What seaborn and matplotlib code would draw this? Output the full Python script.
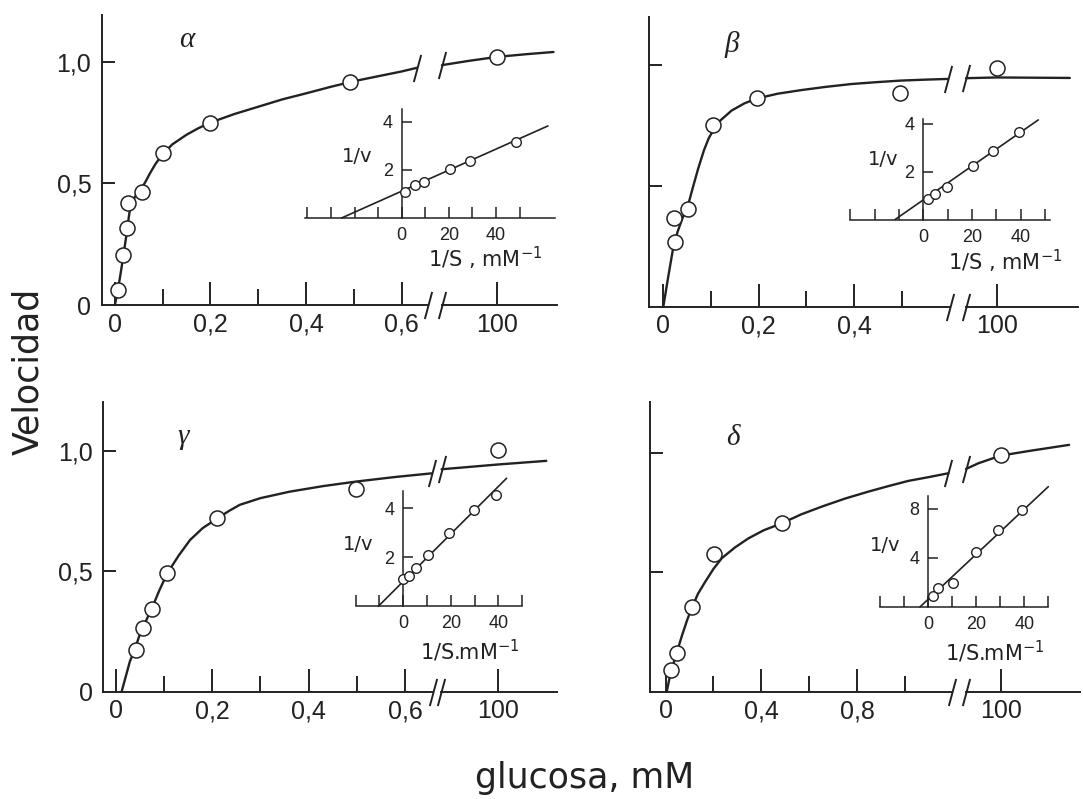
import matplotlib
matplotlib.use("Agg")
import matplotlib.pyplot as plt
from matplotlib.path import Path
import seaborn as sns

# ---------------- data ----------------
# panel alpha
alpha_S = [0.007, 0.018, 0.026, 0.028, 0.056, 0.10, 0.20, 0.492]
alpha_v = [0.062, 0.205, 0.315, 0.418, 0.466, 0.623, 0.747, 0.918]
alpha_S_hi = [100]
alpha_v_hi = [1.02]
alpha_fit_S = [0.0, 0.007, 0.012, 0.018, 0.022, 0.026, 0.029, 0.032, 0.037, 0.042, 0.05, 0.056,
               0.065, 0.073, 0.085, 0.10, 0.12, 0.15, 0.175, 0.20, 0.25, 0.30, 0.35, 0.40,
               0.45, 0.50, 0.55, 0.60, 0.632]
alpha_fit_v = [0.0, 0.07, 0.13, 0.205, 0.26, 0.31, 0.36, 0.40, 0.425, 0.445, 0.465, 0.48,
               0.51, 0.54, 0.58, 0.62, 0.66, 0.70, 0.727, 0.75, 0.785, 0.815, 0.845, 0.87,
               0.896, 0.92, 0.94, 0.96, 0.975]
alpha_fit_S_hi = [90.55, 95, 100, 105, 109.6]
alpha_fit_v_hi = [0.986, 1.003, 1.02, 1.031, 1.04]
alpha_invS = [1.4, 5.6, 9.6, 20.5, 28.9, 48.6]
alpha_invv = [1.09, 1.37, 1.51, 2.03, 2.38, 3.17]
alpha_lw_x = [-25.5, 62]
alpha_lw_y = [0.0, 3.82]

# panel beta
beta_S = [0.0245, 0.023, 0.052, 0.105, 0.196, 0.496]
beta_v = [0.269, 0.365, 0.402, 0.751, 0.861, 0.882]
beta_S_hi = [100]
beta_v_hi = [0.988]
beta_fit_S = [0.0, 0.01, 0.02, 0.03, 0.04, 0.052, 0.063, 0.073, 0.085, 0.095, 0.105, 0.12,
              0.143, 0.17, 0.196, 0.24, 0.29, 0.34, 0.395, 0.45, 0.497, 0.55, 0.597]
beta_fit_v = [0.0, 0.12, 0.235, 0.31, 0.365, 0.42, 0.50, 0.57, 0.645, 0.695, 0.73, 0.77,
              0.81, 0.84, 0.86, 0.88, 0.895, 0.908, 0.92, 0.928, 0.934, 0.938, 0.941]
beta_fit_S_hi = [94.75, 100, 112.5]
beta_fit_v_hi = [0.944, 0.947, 0.945]
beta_invS = [1.8, 4.8, 9.6, 20.5, 28.8, 39.3]
beta_invv = [0.85, 1.05, 1.37, 2.24, 2.87, 3.63]
beta_lw_x = [-11.6, 47.3]
beta_lw_y = [0.0, 4.15]

# panel gamma
gamma_S = [0.0415, 0.057, 0.074, 0.106, 0.21, 0.499]
gamma_v = [0.173, 0.264, 0.343, 0.492, 0.724, 0.843]
gamma_S_hi = [100]
gamma_v_hi = [1.005]
gamma_fit_S = [0.012, 0.029, 0.04, 0.05, 0.057, 0.065, 0.074, 0.09, 0.106, 0.13, 0.154, 0.18,
               0.21, 0.235, 0.257, 0.30, 0.361, 0.43, 0.499, 0.58, 0.655]
gamma_fit_v = [0.0, 0.125, 0.18, 0.24, 0.27, 0.305, 0.343, 0.42, 0.49, 0.565, 0.631, 0.68,
               0.72, 0.752, 0.777, 0.805, 0.832, 0.855, 0.874, 0.893, 0.908]
gamma_fit_S_hi = [90.3, 100, 108.2]
gamma_fit_v_hi = [0.925, 0.945, 0.96]
gamma_invS = [0.0, 2.5, 5.3, 10.2, 19.2, 29.8, 38.9]
gamma_invv = [1.10, 1.24, 1.55, 2.09, 2.98, 3.93, 4.54]
gamma_lw_x = [-10.5, 43.4]
gamma_lw_y = [0.0, 5.22]

# panel delta
delta_S = [0.023, 0.047, 0.109, 0.204, 0.485]
delta_v = [0.091, 0.161, 0.357, 0.576, 0.706]
delta_S_hi = [100]
delta_v_hi = [0.993]
delta_fit_S = [0.005, 0.015, 0.023, 0.035, 0.047, 0.07, 0.09, 0.109, 0.135, 0.165, 0.20, 0.235,
               0.29, 0.346, 0.41, 0.485, 0.565, 0.652, 0.75, 0.847, 0.93, 1.014, 1.1, 1.181]
delta_fit_v = [0.0, 0.05, 0.08, 0.125, 0.165, 0.24, 0.30, 0.35, 0.41, 0.46, 0.515, 0.56,
               0.605, 0.643, 0.677, 0.706, 0.743, 0.776, 0.81, 0.839, 0.862, 0.884, 0.90, 0.916]
delta_fit_S_hi = [94.07, 96.2, 100, 105, 111.7]
delta_fit_v_hi = [0.934, 0.958, 0.99, 1.01, 1.035]
delta_invS = [1.8, 4.2, 10.4, 19.9, 29.2, 38.9]
delta_invv = [0.9, 1.53, 1.93, 4.47, 6.29, 7.92]
delta_lw_x = [-3.5, 50]
delta_lw_y = [0.0, 9.82]

# tick labels
y_ticks = [0, 0.5, 1.0]
y_ticklabels = ["0", "0,5", "1,0"]
x_major_a = [0, 0.2, 0.4, 0.6]
x_major_a_lab = ["0", "0,2", "0,4", "0,6"]
x_minor_a = [0.1, 0.3, 0.5]
x_major_b = [0, 0.2, 0.4]
x_major_b_lab = ["0", "0,2", "0,4"]
x_minor_b = [0.1, 0.3, 0.5]
x_major_d = [0, 0.4, 0.8]
x_major_d_lab = ["0", "0,4", "0,8"]
x_minor_d = [0.2, 0.6, 1.0]
hi_ticks = [100]
hi_ticklabels = ["100"]

# ---------------- style ----------------
INK = "#222222"
sns.set_theme(style="ticks")
plt.rcParams["font.family"] = ["DejaVu Sans"]
plt.rcParams["text.color"] = INK
plt.rcParams["axes.edgecolor"] = INK
plt.rcParams["xtick.color"] = INK
plt.rcParams["ytick.color"] = INK
plt.rcParams["xtick.bottom"] = True
plt.rcParams["ytick.left"] = True
plt.rcParams["mathtext.fontset"] = "dejavusans"

W, H = 1083, 799
fig = plt.figure(figsize=(W / 100, H / 100), dpi=100)
fig.patch.set_facecolor("white")

SLASH = Path([(-0.27, -1.0), (0.27, 1.0)], [Path.MOVETO, Path.LINETO])
TICKFONT = {"family": "Liberation Sans", "size": 18}
INSETFONT = {"family": "Liberation Sans", "size": 13}


def add_ax(x0, x1, ytop, ybot):
    return fig.add_axes([x0 / W, 1 - ybot / H, (x1 - x0) / W, (ybot - ytop) / H])


def slash(ax, x, y):
    ax.plot([x], [y], marker=SLASH, ms=19.5, mew=1.4, mec=INK, mfc="none",
            ls="none", clip_on=False, zorder=6)


def main_panel(geo, S, v, S_hi, v_hi, fS, fv, fS_hi, fv_hi,
               majors, major_labels, minors, ylabels):
    axl = add_ax(geo["x0"], geo["x1"], geo["ytop"], geo["ybot"])
    axr = add_ax(geo["r0"], geo["r1"], geo["ytop"], geo["ybot"])
    for ax in (axl, axr):
        ax.patch.set_visible(False)
        ax.set_ylim(0, geo["ymax"])
        for s in ("top", "right"):
            ax.spines[s].set_visible(False)
        ax.spines["bottom"].set_linewidth(1.4)
        ax.spines["left"].set_linewidth(1.4)
    axr.spines["left"].set_visible(False)
    axl.set_xlim(*geo["xlim"])
    axr.set_xlim(*geo["rxlim"])

    # curves
    sns.lineplot(x=fS, y=fv, ax=axl, color=INK, linewidth=1.7, sort=False,
                 estimator=None, clip_on=False, zorder=2)
    sns.lineplot(x=fS_hi, y=fv_hi, ax=axr, color=INK, linewidth=1.7, sort=False,
                 estimator=None, clip_on=False, zorder=2)
    # points
    sns.scatterplot(x=S, y=v, ax=axl, s=117, color="white", edgecolor=INK,
                    linewidth=1.1, zorder=4, clip_on=False)
    sns.scatterplot(x=S_hi, y=v_hi, ax=axr, s=117, color="white", edgecolor=INK,
                    linewidth=1.1, zorder=4, clip_on=False)

    # ticks
    axl.set_xticks(majors, major_labels, fontdict=TICKFONT)
    axl.set_xticks(minors, minor=True)
    axl.xaxis.get_major_ticks()[0].tick1line.set_visible(False)
    axl.tick_params(axis="x", which="major", direction="in", length=16.6, width=1.4,
                    pad=5.5, bottom=True, top=False)
    axl.tick_params(axis="x", which="minor", direction="in", length=11.5, width=1.4,
                    bottom=True, top=False)
    axl.set_yticks(y_ticks, ylabels if ylabels else [""] * len(y_ticks), fontdict=TICKFONT)
    axl.tick_params(axis="y", which="major", direction="in", length=9.4, width=1.4,
                    pad=7.5, left=True, right=False)
    axl.yaxis.get_major_ticks()[0].tick1line.set_visible(False)
    axr.set_xticks(hi_ticks, hi_ticklabels, fontdict=TICKFONT)
    axr.tick_params(axis="x", which="major", direction="in", length=16.6, width=1.4,
                    pad=5.5, bottom=True, top=False)
    axr.set_yticks([])
    for ax in (axl, axr):
        ax.set_xlabel("")
        ax.set_ylabel("")

    # break marks: axis and curve
    slash(axl, geo["xlim"][1], 0)
    slash(axr, geo["rxlim"][0], 0)
    slash(axl, fS[-1], fv[-1])
    slash(axr, fS_hi[0], fv_hi[0])
    return axl, axr


def inset(geo, iS, iv, lx, ly, xticks, xlabels, yticks, vlab_xy, slab_xy, slab):
    ax = add_ax(geo["x0"], geo["x1"], geo["ytop"], geo["ybot"])
    ax.patch.set_visible(False)
    ax.set_xlim(*geo["xlim"])
    ax.set_ylim(0, geo["ymax"])
    ax.spines["top"].set_visible(False)
    ax.spines["right"].set_visible(False)
    ax.spines["left"].set_position(("data", 0))
    ax.spines["left"].set_linewidth(1.1)
    ax.spines["bottom"].set_linewidth(1.1)
    sns.lineplot(x=lx, y=ly, ax=ax, color=INK, linewidth=1.2, sort=False,
                 estimator=None, clip_on=False, zorder=2)
    sns.scatterplot(x=iS, y=iv, ax=ax, s=48, color="white", edgecolor=INK,
                    linewidth=1.0, zorder=4, clip_on=False)
    ax.set_xticks(xticks, xlabels, fontdict=INSETFONT)
    ax.set_yticks(yticks, [str(t) for t in yticks], fontdict=INSETFONT)
    ax.tick_params(axis="x", direction="in", length=8, width=1.1, pad=6.5,
                   bottom=True, top=False)
    ax.tick_params(axis="y", direction="in", length=7, width=1.1, pad=6.5,
                   left=True, right=False)
    ax.set_xlabel("")
    ax.set_ylabel("")
    ax.text(vlab_xy[0], vlab_xy[1], "1/v", fontsize=14, ha="center", va="center")
    ax.text(slab_xy[0], slab_xy[1], slab, fontsize=15, ha="center", va="center",
            transform=ax.get_xaxis_transform())
    return ax


def ilabels(ticks):
    return [str(t) if t in (0, 20, 40) else "" for t in ticks]


# ---------------- panels ----------------
geo_a = dict(x0=101.7, x1=428, r0=442, r1=557, ytop=15, ybot=305, ymax=1.192,
             xlim=(-0.0276, 0.655), rxlim=(90.55, 110.2))
geo_b = dict(x0=649, x1=950, r0=966, r1=1078, ytop=16.7, ybot=306.7, ymax=1.198,
             xlim=(-0.030, 0.601), rxlim=(94.75, 113.9))
geo_c = dict(x0=103.3, x1=433, r0=441, r1=557, ytop=401.7, ybot=691.7, ymax=1.206,
             xlim=(-0.026, 0.658), rxlim=(90.2, 110.03))
geo_d = dict(x0=650, x1=952, r0=966, r1=1080, ytop=401.7, ybot=691.7, ymax=1.216,
             xlim=(-0.065, 1.196), rxlim=(94.07, 113.56))

main_panel(geo_a, alpha_S, alpha_v, alpha_S_hi, alpha_v_hi, alpha_fit_S, alpha_fit_v,
           alpha_fit_S_hi, alpha_fit_v_hi, x_major_a, x_major_a_lab, x_minor_a, y_ticklabels)
main_panel(geo_b, beta_S, beta_v, beta_S_hi, beta_v_hi, beta_fit_S, beta_fit_v,
           beta_fit_S_hi, beta_fit_v_hi, x_major_b, x_major_b_lab, x_minor_b, None)
main_panel(geo_c, gamma_S, gamma_v, gamma_S_hi, gamma_v_hi, gamma_fit_S, gamma_fit_v,
           gamma_fit_S_hi, gamma_fit_v_hi, x_major_a, x_major_a_lab, x_minor_a, y_ticklabels)
main_panel(geo_d, delta_S, delta_v, delta_S_hi, delta_v_hi, delta_fit_S, delta_fit_v,
           delta_fit_S_hi, delta_fit_v_hi, x_major_d, x_major_d_lab, x_minor_d, None)

ticks_a = [-40, -30, -20, -10, 0, 10, 20, 30, 40, 50]
ticks_b = [-30, -20, -10, 0, 10, 20, 30, 40, 50]
ticks_c = [-20, -10, 0, 10, 20, 30, 40, 50]

inset(dict(x0=305, x1=555, ytop=109.3, ybot=218, xlim=(-41, 65), ymax=4.51),
      alpha_invS, alpha_invv, alpha_lw_x, alpha_lw_y, ticks_a, ilabels(ticks_a), [2, 4],
      (-19, 2.54), (35.3, -0.37), "1/S , mM$^{-1}$")
inset(dict(x0=850.4, x1=1049.7, ytop=118.7, ybot=219.5, xlim=(-30, 52), ymax=4.2),
      beta_invS, beta_invv, beta_lw_x, beta_lw_y, ticks_b, ilabels(ticks_b), [2, 4],
      (-16.6, 2.48), (33.6, -0.42), "1/S , mM$^{-1}$")
inset(dict(x0=355.7, x1=522.3, ytop=491, ybot=606.3, xlim=(-20, 50), ymax=4.7),
      gamma_invS, gamma_invv, gamma_lw_x, gamma_lw_y, ticks_c, ilabels(ticks_c), [2, 4],
      (-18.9, 2.5), (28, -0.39), "1/S.mM$^{-1}$")
inset(dict(x0=880.3, x1=1048.3, ytop=495.5, ybot=607, xlim=(-20, 50), ymax=9.1),
      delta_invS, delta_invv, delta_lw_x, delta_lw_y, ticks_c, ilabels(ticks_c), [4, 8],
      (-18, 5.06), (27.8, -0.40), "1/S.mM$^{-1}$")

# panel letters
letter_font = dict(family="Liberation Serif", style="italic", size=21)
for txt, px, py in [("α", 186.7, 40), ("β", 731.7, 45), ("γ", 183.3, 436.7), ("δ", 733.3, 438.3)]:
    fig.text(px / W, 1 - py / H, txt, ha="center", va="center", fontdict=letter_font)

# shared labels
fig.text(45 / W, 1 - 371 / H, "Velocidad", rotation=90, ha="right", va="center", fontsize=25)
fig.text(584.5 / W, 1 - 788 / H, "glucosa, mM", ha="center", va="baseline", fontsize=25)

fig.savefig("out.png", dpi=100, facecolor="white")
